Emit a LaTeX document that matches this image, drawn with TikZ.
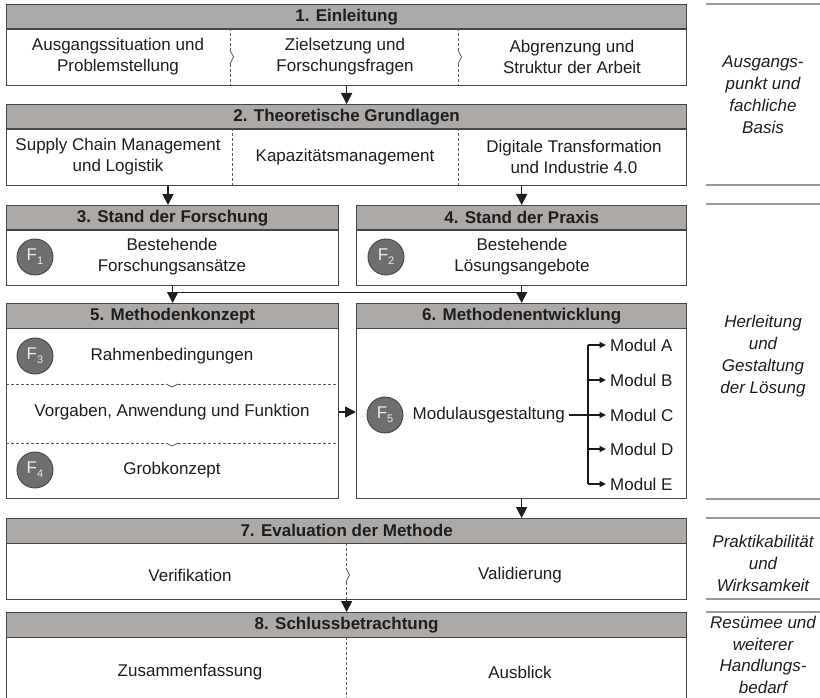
\documentclass[tikz,border=0pt]{standalone}
\usepackage{fontspec}
\setmainfont{Liberation Sans}
\usetikzlibrary{arrows.meta,calc}

\definecolor{hdrgray}{HTML}{ADA9A7}
\definecolor{edge}{HTML}{454545}
\definecolor{circfill}{HTML}{6E6E6E}
\definecolor{sepgray}{HTML}{9A9A9A}
\definecolor{ink}{HTML}{1E1E1E}
\definecolor{dashgray}{HTML}{5A5A5A}

\begin{document}
\begin{tikzpicture}[x=1pt,y=-1pt,
  bodybox/.style={draw=edge, line width=1.3pt, fill=white, anchor=north west, inner sep=0pt},
  hdr/.style={draw=edge, line width=1.3pt, fill=hdrgray, anchor=north west, minimum height=24.5pt,
    inner sep=0pt, font=\bfseries\fontsize{17}{21}\selectfont, text=ink},
  txt/.style={align=center, font=\fontsize{17}{21}\selectfont, text=ink, inner sep=1pt},
  sidetxt/.style={align=center, font=\itshape\fontsize{17}{22}\selectfont, text=ink, inner sep=0pt},
  fcirc/.style={circle, draw=edge, line width=0.9pt, fill=circfill, minimum size=36pt, inner sep=0pt,
    text=white!92!black, font=\fontsize{17}{17}\selectfont},
  arr/.style={draw=black!88, line width=1.6pt, -{Triangle[length=11pt,width=11pt]}},
  plainline/.style={draw=black!88, line width=1.6pt},
  marr/.style={draw=black!90, line width=1.3pt, -{Triangle[length=6.5pt,width=6pt]}},
  divline/.style={draw=dashgray, line width=0.7pt, dash pattern=on 3pt off 2pt},
  kink/.style={draw=dashgray, line width=0.7pt},
  sepline/.style={draw=sepgray, line width=1.5pt},
]
\clip (0,0) rectangle (820,698);

% ---------------- 1. Einleitung ----------------
\node[bodybox, minimum width=680pt, minimum height=81pt] (b1) at (6,4) {};
\node[hdr, minimum width=680pt] (h1) at (6,4) {1. Einleitung};
\node[txt] (t11) at (118,57) {Ausgangssituation und\\Problemstellung};
\node[txt] (t12) at (345,57) {Zielsetzung und\\Forschungsfragen};
\node[txt] (t13) at (572,57) {Abgrenzung und\\Struktur der Arbeit};
\foreach \xx in {230,458}{
  \draw[divline] (\xx,28.5) -- (\xx,50);
  \draw[kink] (\xx,50) -- (\xx+3.5,57) -- (\xx,64);
  \draw[divline] (\xx,64) -- (\xx,85);
}

% ---------------- 2. Theoretische Grundlagen ----------------
\node[bodybox, minimum width=680pt, minimum height=81pt] (b2) at (6,104) {};
\node[hdr, minimum width=680pt] (h2) at (6,104) {2. Theoretische Grundlagen};
\node[txt] (t21) at (118,157) {Supply Chain Management\\und Logistik};
\node[txt] (t22) at (345,157) {Kapazitätsmanagement};
\node[txt] (t23) at (574,157) {Digitale Transformation\\und Industrie 4.0};
\foreach \xx in {232,458}{
  \draw[divline] (\xx,128.5) -- (\xx,185);
}

% ---------------- 3. / 4. ----------------
\node[bodybox, minimum width=332pt, minimum height=80pt] (b3) at (6,205) {};
\node[hdr, minimum width=332pt] (h3) at (6,205) {3. Stand der Forschung};
\node[fcirc] (f1) at (35,257) {F\raisebox{-4pt}{\fontsize{11}{11}\selectfont 1}};
\node[txt] (t3) at (172,257) {Bestehende\\Forschungsansätze};

\node[bodybox, minimum width=330pt, minimum height=80pt] (b4) at (356,205) {};
\node[hdr, minimum width=330pt] (h4) at (356,205) {4. Stand der Praxis};
\node[fcirc] (f2) at (386,257) {F\raisebox{-4pt}{\fontsize{11}{11}\selectfont 2}};
\node[txt] (t4) at (522,257) {Bestehende\\Lösungsangebote};

% ---------------- 5. Methodenkonzept ----------------
\node[bodybox, minimum width=332pt, minimum height=195pt] (b5) at (6,303) {};
\node[hdr, minimum width=332pt] (h5) at (6,303) {5. Methodenkonzept};
\node[fcirc] (f3) at (35,356) {F\raisebox{-4pt}{\fontsize{11}{11}\selectfont 3}};
\node[txt] (t5a) at (172,356) {Rahmenbedingungen};
\node[txt] (t5b) at (172,412) {Vorgaben, Anwendung und Funktion};
\node[fcirc] (f4) at (35,470) {F\raisebox{-4pt}{\fontsize{11}{11}\selectfont 4}};
\node[txt] (t5c) at (172,470) {Grobkonzept};
\foreach \yy in {384,443}{
  \draw[divline] (6,\yy) -- (166,\yy);
  \draw[kink] (166,\yy) -- (172,\yy+3) -- (178,\yy);
  \draw[divline] (178,\yy) -- (338,\yy);
}

% ---------------- 6. Methodenentwicklung ----------------
\node[bodybox, minimum width=330pt, minimum height=195pt] (b6) at (356,303) {};
\node[hdr, minimum width=330pt] (h6) at (356,303) {6. Methodenentwicklung};
\node[fcirc] (f5) at (385,415) {F\raisebox{-4pt}{\fontsize{11}{11}\selectfont 5}};
\node[txt, anchor=east, inner xsep=4pt] (mg) at (569,415) {Modulausgestaltung};
\coordinate (tr) at (588,415);
\node[txt, anchor=west, inner xsep=4pt] (mA) at (606,345) {Modul A};
\node[txt, anchor=west, inner xsep=4pt] (mB) at (606,380) {Modul B};
\node[txt, anchor=west, inner xsep=4pt] (mC) at (606,415) {Modul C};
\node[txt, anchor=west, inner xsep=4pt] (mD) at (606,449) {Modul D};
\node[txt, anchor=west, inner xsep=4pt] (mE) at (606,484) {Modul E};
\draw[plainline] (mg.east) -- (tr);
\draw[draw=black!90, line width=1.3pt] (mA.west -| tr) -- (mE.west -| tr);
\foreach \m in {mA,mB,mC,mD,mE}{
  \draw[marr] (\m.west -| tr) -- (\m.west);
}

% ---------------- 7. Evaluation der Methode ----------------
\node[bodybox, minimum width=680pt, minimum height=81pt] (b7) at (6,518) {};
\node[hdr, minimum width=680pt] (h7) at (6,518) {7. Evaluation der Methode};
\node[txt] (t71) at (190,575) {Verifikation};
\node[txt] (t72) at (520,575) {Validierung};
\draw[divline] (346,542.5) -- (346,568);
\draw[kink] (346,568) -- (349.5,575) -- (346,582);
\draw[divline] (346,582) -- (346,599);

% ---------------- 8. Schlussbetrachtung ----------------
\node[bodybox, minimum width=680pt, minimum height=110pt] (b8) at (6,612) {};
\node[hdr, minimum width=680pt] (h8) at (6,612) {8. Schlussbetrachtung};
\node[txt] (t81) at (190,672) {Zusammenfassung};
\node[txt] (t82) at (520,672) {Ausblick};
\draw[divline] (346,636.5) -- (346,722);

% ---------------- connectors ----------------
\draw[arr] (b1.south) -- (h2.north);
\draw[arr] (b2.south -| 168,0) -- (h3.north -| 168,0);
\draw[arr] (b2.south -| h4.north) -- (h4.north);
\coordinate (j3) at ($(b3.south)+(0,6)$);
\draw[plainline] (j3) -- (j3 -| b4.south);
\draw[arr] (b3.south) -- (h5.north);
\draw[arr] (b4.south) -- (h6.north);
\draw[arr] (b5.east |- t5b) -- (b6.west |- t5b);
\draw[arr] (b6.south) -- (b6.south |- h7.north);
\draw[arr] (b7.south) -- (h8.north);

% ---------------- phase labels ----------------
\foreach \yy in {4,185,204,499,518,599,612}{
  \draw[sepline] (706,\yy) -- (820,\yy);
}
\node[sidetxt] (p1) at (763,95) {Ausgangs-\\punkt und\\fachliche\\Basis};
\node[sidetxt] (p2) at (763,356) {Herleitung\\und\\Gestaltung\\der Lösung};
\node[sidetxt] (p3) at (763,563) {Praktikabilität\\und\\Wirksamkeit};
\node[sidetxt, font=\itshape\fontsize{17}{21.5}\selectfont] (p4) at (763,655) {Resümee und\\weiterer\\Handlungs-\\bedarf};
\end{tikzpicture}
\end{document}
